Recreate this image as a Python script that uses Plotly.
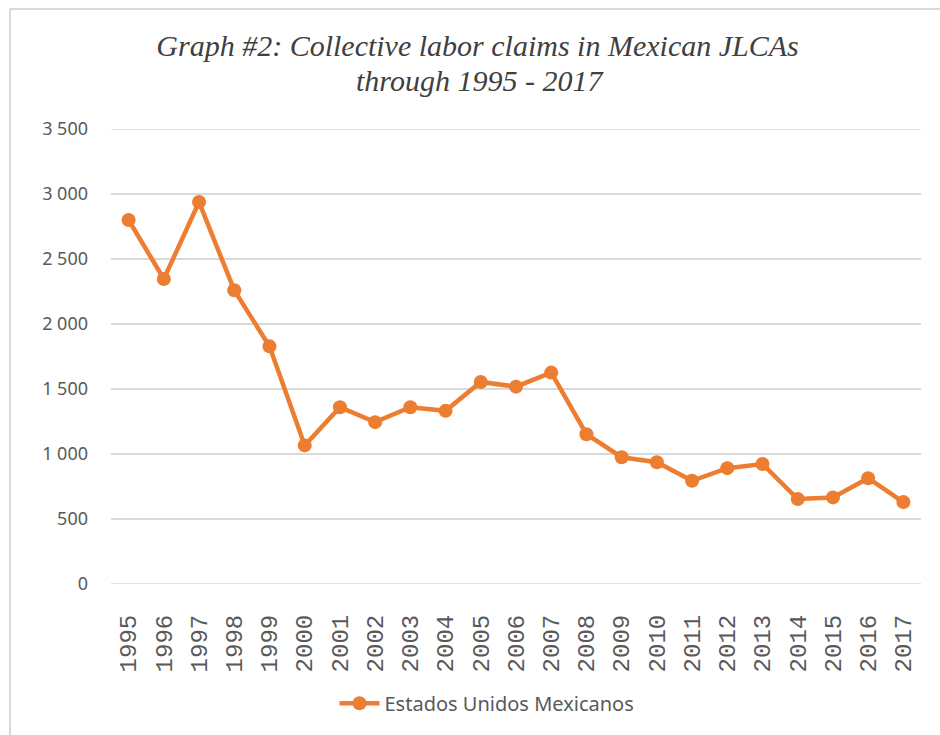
import plotly.graph_objects as go

# Collective labor claims filed in Mexican JLCAs, 1995-2017
years = [str(y) for y in range(1995, 2018)]
claims = [2800, 2346, 2938, 2260, 1828, 1066, 1360, 1245, 1360, 1332,
          1554, 1518, 1626, 1152, 975, 937, 794, 891, 923, 654, 666, 814, 630]

series_name = "Estados Unidos Mexicanos"
title_line1 = "Graph #2: Collective labor claims in Mexican JLCAs"
title_line2 = "through 1995 - 2017"
y_ticks = [0, 500, 1000, 1500, 2000, 2500, 3000, 3500]

ORANGE = "#ED7D31"
GRID = "#d9d9d9"
TEXT = "#595959"
TITLE_FONT = dict(family="Liberation Serif", size=30, color="#404040",
                  style="italic")

fig = go.Figure()
fig.add_trace(go.Scatter(
    x=years, y=claims, name=series_name, mode="lines+markers",
    line=dict(color=ORANGE, width=4.5),
    marker=dict(color=ORANGE, size=14),
    showlegend=True,
))

# gridlines at the bottom and top of the value range (plotly drops the
# ones sitting on the plot edges)
edge_grid = [
    dict(type="line", xref="paper", yref="y", x0=0, x1=1, y0=v, y1=v,
         line=dict(color=GRID, width=1.5), layer="below")
    for v in (y_ticks[0], y_ticks[-1])
]

frame = [
    # chart frame: top and left edges
    dict(type="line", xref="paper", yref="paper",
         x0=-0.1247, x1=1.03, y0=1.2637, y1=1.2637,
         line=dict(color=GRID, width=2)),
    dict(type="line", xref="paper", yref="paper",
         x0=-0.1247, x1=-0.1247, y0=1.2637, y1=-0.34,
         line=dict(color=GRID, width=2)),
]

fig.update_layout(
    width=940, height=735,
    margin=dict(l=111, r=19, t=129, b=151),
    paper_bgcolor="white", plot_bgcolor="white",
    separators=". ",
    title=dict(
        text=title_line1, x=0.508, xanchor="center", xref="container",
        y=1 - 45 / 735, yanchor="middle", yref="container",
        font=TITLE_FONT,
    ),
    annotations=[
        dict(text=title_line2, xref="paper", yref="paper",
             x=(480 - 111) / 810, y=(584 - 81) / 455,
             xanchor="center", yanchor="middle", showarrow=False,
             font=TITLE_FONT),
    ],
    xaxis=dict(
        type="category", range=[-0.5, len(years) - 0.5],
        tickangle=-90, showgrid=False, zeroline=False,
        showline=False, ticks="", ticklabelstandoff=25,
        tickfont=dict(family="Liberation Mono", size=24, color=TEXT),
    ),
    yaxis=dict(
        range=[y_ticks[0], y_ticks[-1]], tickvals=y_ticks, tickformat=",d",
        showgrid=True, gridcolor=GRID, gridwidth=1.5, zeroline=False,
        showline=False, ticks="", ticklabelstandoff=22,
        tickfont=dict(family="Noto Sans", size=18, color=TEXT),
    ),
    legend=dict(
        orientation="h", x=(487 - 111) / 810, xanchor="center",
        y=-0.262, yanchor="middle",
        font=dict(family="Noto Sans", size=20, color=TEXT),
        itemwidth=40,
    ),
    shapes=edge_grid + frame,
)

fig.write_html("out.html")
